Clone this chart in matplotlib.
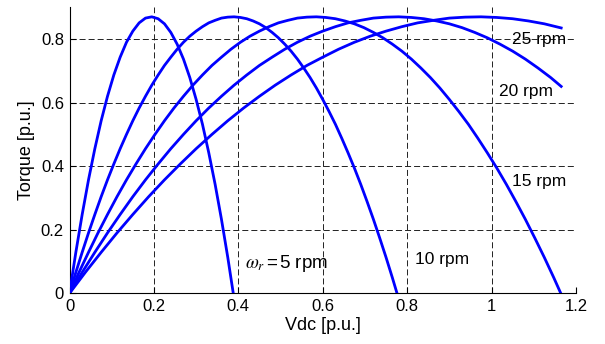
import matplotlib
matplotlib.use("Agg")
import matplotlib.pyplot as plt

plt.rcParams['font.family'] = ['Liberation Sans', 'DejaVu Sans']
plt.rcParams['mathtext.fontset'] = 'stix'

# Torque [p.u.] vs Vdc [p.u.] for each rotor speed
vdc_5 = [0, 0.015, 0.03, 0.045, 0.06, 0.075, 0.09, 0.105, 0.12, 0.135, 0.15, 0.165, 0.18, 0.195,
         0.21, 0.225, 0.24, 0.255, 0.27, 0.285, 0.30, 0.315, 0.33, 0.345, 0.36, 0.375, 0.388]
torque_5 = [0, 0.129, 0.248, 0.357, 0.455, 0.543, 0.620, 0.687, 0.743, 0.790, 0.825, 0.851, 0.866, 0.870,
            0.864, 0.848, 0.821, 0.784, 0.737, 0.679, 0.610, 0.532, 0.442, 0.343, 0.233, 0.113, 0]

vdc_10 = [0, 0.015, 0.03, 0.045, 0.06, 0.075, 0.09, 0.105, 0.12, 0.135, 0.15, 0.165, 0.18, 0.195,
          0.21, 0.225, 0.24, 0.255, 0.27, 0.285, 0.30, 0.315, 0.33, 0.345, 0.36, 0.375, 0.39, 0.405,
          0.42, 0.435, 0.45, 0.465, 0.48, 0.495, 0.51, 0.525, 0.54, 0.555, 0.57, 0.585, 0.60, 0.615,
          0.63, 0.645, 0.66, 0.675, 0.69, 0.705, 0.72, 0.735, 0.75, 0.765, 0.776]
torque_10 = [0, 0.066, 0.129, 0.190, 0.248, 0.304, 0.357, 0.407, 0.455, 0.500, 0.543, 0.583, 0.620, 0.655,
             0.687, 0.717, 0.743, 0.768, 0.790, 0.809, 0.825, 0.839, 0.851, 0.859, 0.866, 0.869, 0.870,
             0.868, 0.864, 0.857, 0.848, 0.836, 0.821, 0.804, 0.784, 0.762, 0.737, 0.709, 0.679, 0.646,
             0.610, 0.572, 0.532, 0.488, 0.442, 0.394, 0.343, 0.289, 0.233, 0.174, 0.113, 0.049, 0]

vdc_15 = [0, 0.0225, 0.045, 0.0675, 0.09, 0.1125, 0.135, 0.1575, 0.18, 0.2025, 0.225, 0.2475, 0.27,
          0.2925, 0.315, 0.3375, 0.36, 0.3825, 0.405, 0.4275, 0.45, 0.4725, 0.495, 0.5175, 0.54, 0.5625,
          0.585, 0.6075, 0.63, 0.6525, 0.675, 0.6975, 0.72, 0.7425, 0.765, 0.7875, 0.81, 0.8325, 0.855,
          0.8775, 0.90, 0.9225, 0.945, 0.9675, 0.99, 1.0125, 1.035, 1.0575, 1.08, 1.1025, 1.125, 1.1475,
          1.164]
torque_15 = [0, 0.066, 0.129, 0.190, 0.248, 0.304, 0.357, 0.407, 0.455, 0.500, 0.543, 0.583, 0.620, 0.655,
             0.687, 0.717, 0.743, 0.768, 0.790, 0.809, 0.825, 0.839, 0.851, 0.859, 0.866, 0.869, 0.870,
             0.868, 0.864, 0.857, 0.848, 0.836, 0.821, 0.804, 0.784, 0.762, 0.737, 0.709, 0.679, 0.646,
             0.610, 0.572, 0.532, 0.488, 0.442, 0.394, 0.343, 0.289, 0.233, 0.174, 0.113, 0.049, 0]

vdc_20 = [0, 0.03, 0.06, 0.09, 0.12, 0.15, 0.18, 0.21, 0.24, 0.27, 0.30, 0.33, 0.36, 0.39, 0.42, 0.45,
          0.48, 0.51, 0.54, 0.57, 0.60, 0.63, 0.66, 0.69, 0.72, 0.75, 0.78, 0.81, 0.84, 0.87, 0.90, 0.93,
          0.96, 0.99, 1.02, 1.05, 1.08, 1.11, 1.14, 1.165]
torque_20 = [0, 0.066, 0.129, 0.190, 0.248, 0.304, 0.357, 0.407, 0.455, 0.500, 0.543, 0.583, 0.620, 0.655,
             0.687, 0.717, 0.743, 0.768, 0.790, 0.809, 0.825, 0.839, 0.851, 0.859, 0.866, 0.869, 0.870,
             0.868, 0.864, 0.857, 0.848, 0.836, 0.821, 0.804, 0.784, 0.762, 0.737, 0.709, 0.679, 0.651]

vdc_25 = [0, 0.0375, 0.075, 0.1125, 0.15, 0.1875, 0.225, 0.2625, 0.30, 0.3375, 0.375, 0.4125, 0.45,
          0.4875, 0.525, 0.5625, 0.60, 0.6375, 0.675, 0.7125, 0.75, 0.7875, 0.825, 0.8625, 0.90, 0.9375,
          0.975, 1.0125, 1.05, 1.0875, 1.125, 1.165]
torque_25 = [0, 0.066, 0.129, 0.190, 0.248, 0.304, 0.357, 0.407, 0.455, 0.500, 0.543, 0.583, 0.620, 0.655,
             0.687, 0.717, 0.743, 0.768, 0.790, 0.809, 0.825, 0.839, 0.851, 0.859, 0.866, 0.869, 0.870,
             0.868, 0.864, 0.857, 0.848, 0.835]

x_ticks = [0, 0.2, 0.4, 0.6, 0.8, 1.0, 1.2]
x_tick_labels = ['0', '0.2', '0.4', '0.6', '0.8', '1', '1.2']
y_ticks = [0, 0.2, 0.4, 0.6, 0.8]
y_tick_labels = ['0', '0.2', '0.4', '0.6', '0.8']

labels = [r'$\omega_r\,$=$\,$5 rpm', '10 rpm', '15 rpm', '20 rpm', '25 rpm']
label_pos = [(0.416, 0.095), (0.819, 0.105), (1.048, 0.351), (1.018, 0.635), (1.048, 0.80)]

fig = plt.figure(figsize=(6.05, 3.44), dpi=100)
ax = fig.add_axes([0.1149, 0.1474, 0.952 - 0.1149, 0.9788 - 0.1474])

blue = '#0000ff'
for xs, ys in [(vdc_5, torque_5), (vdc_10, torque_10), (vdc_15, torque_15),
               (vdc_20, torque_20), (vdc_25, torque_25)]:
    ax.plot(xs, ys, color=blue, linewidth=2.0, solid_joinstyle='round', zorder=3)

ax.set_xlim(0, 1.2)
ax.set_ylim(0, 0.9)
ax.set_xticks(x_ticks)
ax.set_xticklabels(x_tick_labels)
ax.set_yticks(y_ticks)
ax.set_yticklabels(y_tick_labels)

ax.grid(True, color='#222222', linestyle=(0, (6.2, 3.1)), linewidth=0.7, zorder=1)
ax.spines['top'].set_visible(False)
ax.spines['right'].set_visible(False)
ax.spines['left'].set_linewidth(0.8)
ax.spines['bottom'].set_linewidth(0.8)
ax.tick_params(direction='in', length=4, width=0.8, labelsize=12, pad=4)

ax.set_xlabel('Vdc [p.u.]', fontsize=13, labelpad=2)
ax.set_ylabel('Torque [p.u.]', fontsize=13, labelpad=4)

for i, (text, (x, y)) in enumerate(zip(labels, label_pos)):
    fs = 13.5 if i == 0 else 12.5
    ax.text(x, y, text, fontsize=fs, ha='left', va='center', zorder=4)

fig.savefig('out.png', dpi=100)
